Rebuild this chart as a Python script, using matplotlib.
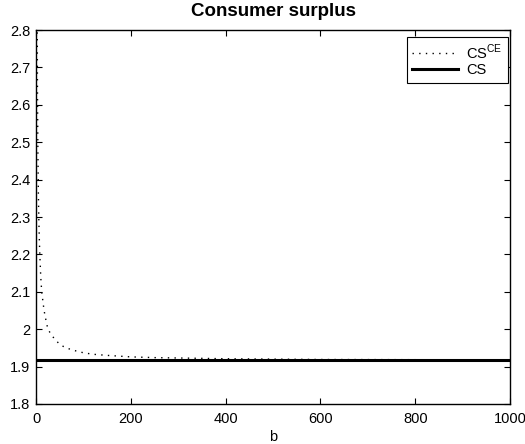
import matplotlib
matplotlib.use("Agg")
import matplotlib.pyplot as plt
from matplotlib.ticker import FuncFormatter

plt.rcParams['font.family'] = ['Liberation Sans', 'DejaVu Sans']
plt.rcParams['mathtext.fontset'] = 'custom'
plt.rcParams['mathtext.rm'] = 'Liberation Sans'

# values
b_ce = [1, 2, 3, 4, 5, 6, 7, 8, 10, 12, 14, 17, 20, 25, 30, 40, 50, 60, 75,
        90, 100, 120, 150, 200, 250, 300, 400, 500, 600, 800, 1000]
cs_ce = [4.10, 3.05, 2.65, 2.47, 2.36, 2.29, 2.24, 2.20, 2.14, 2.10, 2.08,
         2.05, 2.03, 2.00, 1.99, 1.972, 1.960, 1.952, 1.945, 1.940, 1.937,
         1.933, 1.930, 1.926, 1.924, 1.923, 1.921, 1.920, 1.919, 1.9185, 1.918]
b_cs = [0, 1000]
cs = [1.9175, 1.9175]

x_ticks = [0, 200, 400, 600, 800, 1000]
y_ticks = [1.8, 1.9, 2.0, 2.1, 2.2, 2.3, 2.4, 2.5, 2.6, 2.7, 2.8]

fs = 10.5

fig = plt.figure(figsize=(5.25, 4.44), dpi=100)
ax = fig.add_axes([0.0686, 0.0901, 0.9029, 0.8423])

ax.plot(b_ce, cs_ce, color='black', lw=1.0, linestyle=(0, (1.0, 3.8)),
        label=r'CS$^{\mathrm{CE}}$')
ax.plot(b_cs, cs, color='black', lw=2.2, label='CS')

ax.set_xlim(0, 1000)
ax.set_ylim(1.8, 2.8)
ax.set_xticks(x_ticks)
ax.set_yticks(y_ticks)
ax.yaxis.set_major_formatter(FuncFormatter(lambda v, p: '%g' % round(v, 2)))
ax.tick_params(direction='in', top=True, right=True, labelsize=fs,
               length=4, width=0.8)
ax.tick_params(axis='x', pad=6)
ax.tick_params(axis='y', pad=4)
for s in ax.spines.values():
    s.set_linewidth(1.0)

ax.set_title('Consumer surplus', fontsize=13.5, fontweight='bold', pad=10)
ax.set_xlabel('b', fontsize=fs, labelpad=3)

leg = ax.legend(loc='upper right', bbox_to_anchor=(0.996, 0.982),
                fontsize=fs, handlelength=3.1, borderaxespad=0,
                fancybox=False, framealpha=1, edgecolor='black',
                borderpad=0.38, labelspacing=0.12, handletextpad=0.6)
leg.get_frame().set_linewidth(0.8)

fig.savefig('out.png', dpi=100)
